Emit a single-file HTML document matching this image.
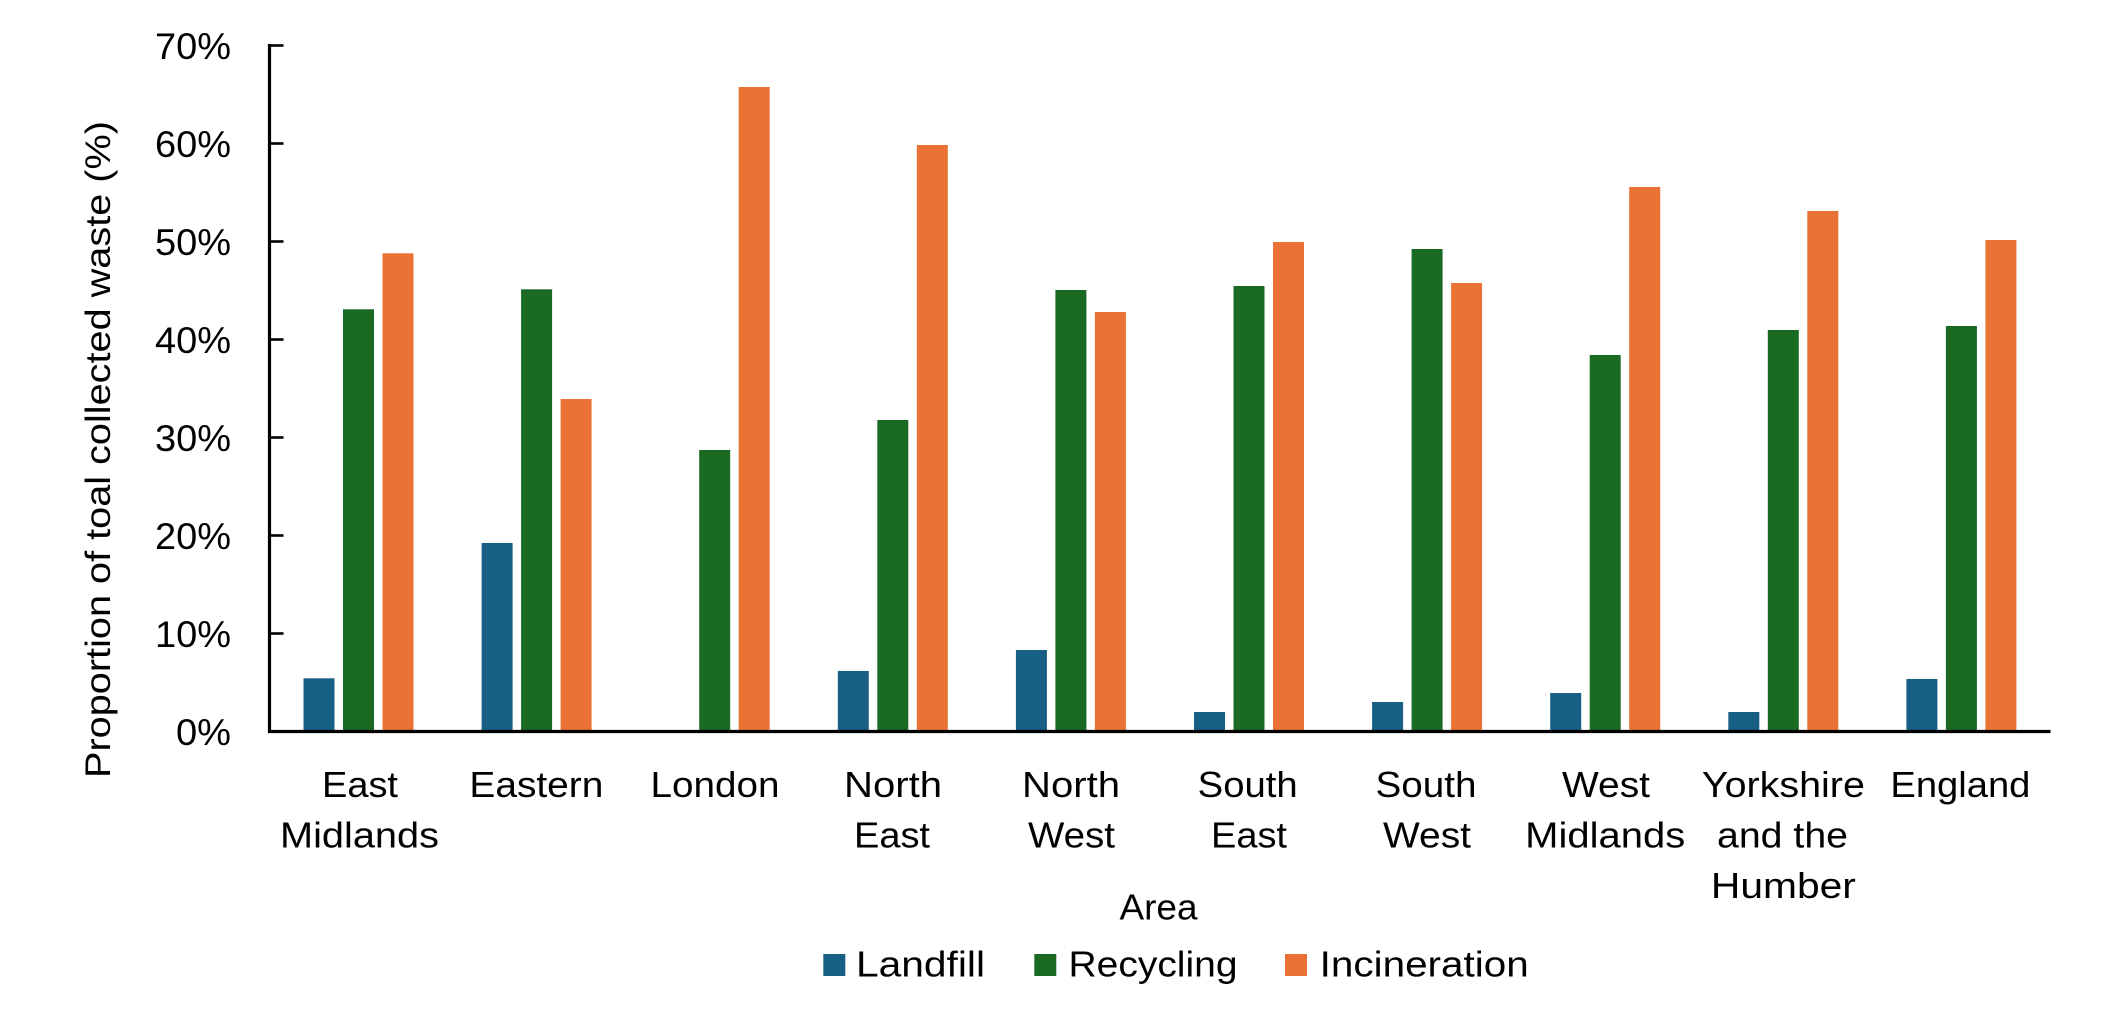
<!DOCTYPE html>
<html>
<head>
<meta charset="utf-8">
<style>
  html, body { margin: 0; padding: 0; background: #ffffff; }
  svg { display: block; }
  text { font-family: "Liberation Sans", Arial, sans-serif; fill: #000; }
</style>
</head>
<body>
<svg width="2104" height="1024" viewBox="0 0 2104 1024" xmlns="http://www.w3.org/2000/svg">
  <rect x="0" y="0" width="2104" height="1024" fill="#ffffff"/>

  <!-- Bars -->
  <g>
    <!-- East Midlands c=358.5 -->
    <rect x="303.5" y="678.3" width="31" height="53.2" fill="#185f85"/>
    <rect x="343" y="309.3" width="31" height="422.2" fill="#1a6a24"/>
    <rect x="382.5" y="253.3" width="31" height="478.2" fill="#e97234"/>
    <!-- Eastern c=536.6 -->
    <rect x="481.6" y="543" width="31" height="188.5" fill="#185f85"/>
    <rect x="521.1" y="289.3" width="31" height="442.2" fill="#1a6a24"/>
    <rect x="560.6" y="399" width="31" height="332.5" fill="#e97234"/>
    <!-- London c=714.7 -->
    <rect x="699.2" y="450" width="31" height="281.5" fill="#1a6a24"/>
    <rect x="738.7" y="87" width="31" height="644.5" fill="#e97234"/>
    <!-- North East c=892.8 -->
    <rect x="837.8" y="671" width="31" height="60.5" fill="#185f85"/>
    <rect x="877.3" y="420" width="31" height="311.5" fill="#1a6a24"/>
    <rect x="916.8" y="145" width="31" height="586.5" fill="#e97234"/>
    <!-- North West c=1070.9 -->
    <rect x="1015.9" y="650" width="31" height="81.5" fill="#185f85"/>
    <rect x="1055.4" y="290" width="31" height="441.5" fill="#1a6a24"/>
    <rect x="1094.9" y="312" width="31" height="419.5" fill="#e97234"/>
    <!-- South East c=1249 -->
    <rect x="1194" y="712" width="31" height="19.5" fill="#185f85"/>
    <rect x="1233.5" y="286" width="31" height="445.5" fill="#1a6a24"/>
    <rect x="1273" y="242" width="31" height="489.5" fill="#e97234"/>
    <!-- South West c=1427.1 -->
    <rect x="1372.1" y="702" width="31" height="29.5" fill="#185f85"/>
    <rect x="1411.6" y="249" width="31" height="482.5" fill="#1a6a24"/>
    <rect x="1451.1" y="283" width="31" height="448.5" fill="#e97234"/>
    <!-- West Midlands c=1605.2 -->
    <rect x="1550.2" y="693" width="31" height="38.5" fill="#185f85"/>
    <rect x="1589.7" y="355" width="31" height="376.5" fill="#1a6a24"/>
    <rect x="1629.2" y="187" width="31" height="544.5" fill="#e97234"/>
    <!-- Yorkshire c=1783.3 -->
    <rect x="1728.3" y="712" width="31" height="19.5" fill="#185f85"/>
    <rect x="1767.8" y="330" width="31" height="401.5" fill="#1a6a24"/>
    <rect x="1807.3" y="211" width="31" height="520.5" fill="#e97234"/>
    <!-- England c=1961.4 -->
    <rect x="1906.4" y="679" width="31" height="52.5" fill="#185f85"/>
    <rect x="1945.9" y="326" width="31" height="405.5" fill="#1a6a24"/>
    <rect x="1985.4" y="240" width="31" height="491.5" fill="#e97234"/>
  </g>

  <!-- Axes -->
  <g stroke="#000" fill="none">
    <line x1="269.5" y1="44" x2="269.5" y2="733" stroke-width="3.2"/>
    <line x1="268" y1="731.5" x2="2050.5" y2="731.5" stroke-width="3.2"/>
    <line x1="269.5" y1="45.5" x2="283.5" y2="45.5" stroke-width="2.6"/>
    <line x1="269.5" y1="143.5" x2="283.5" y2="143.5" stroke-width="2.6"/>
    <line x1="269.5" y1="241.5" x2="283.5" y2="241.5" stroke-width="2.6"/>
    <line x1="269.5" y1="339.5" x2="283.5" y2="339.5" stroke-width="2.6"/>
    <line x1="269.5" y1="437.5" x2="283.5" y2="437.5" stroke-width="2.6"/>
    <line x1="269.5" y1="535.5" x2="283.5" y2="535.5" stroke-width="2.6"/>
    <line x1="269.5" y1="633.5" x2="283.5" y2="633.5" stroke-width="2.6"/>
  </g>

  <!-- Y tick labels -->
  <g font-size="37" text-anchor="end">
    <text x="231" y="58.8" textLength="76" lengthAdjust="spacingAndGlyphs">70%</text>
    <text x="231" y="156.8" textLength="76" lengthAdjust="spacingAndGlyphs">60%</text>
    <text x="231" y="254.8" textLength="76" lengthAdjust="spacingAndGlyphs">50%</text>
    <text x="231" y="352.8" textLength="76" lengthAdjust="spacingAndGlyphs">40%</text>
    <text x="231" y="450.8" textLength="76" lengthAdjust="spacingAndGlyphs">30%</text>
    <text x="231" y="548.8" textLength="76" lengthAdjust="spacingAndGlyphs">20%</text>
    <text x="231" y="646.8" textLength="76" lengthAdjust="spacingAndGlyphs">10%</text>
    <text x="231" y="744.8" textLength="55" lengthAdjust="spacingAndGlyphs">0%</text>
  </g>

  <!-- Y axis title -->
  <text transform="translate(110,778) rotate(-90)" font-size="35" textLength="657" lengthAdjust="spacingAndGlyphs">Proportion of toal collected waste (%)</text>

  <!-- X category labels -->
  <g font-size="36" text-anchor="middle">
    <text x="360" y="797" textLength="76" lengthAdjust="spacingAndGlyphs">East</text>
    <text x="359.5" y="847.5" textLength="159" lengthAdjust="spacingAndGlyphs">Midlands</text>

    <text x="536.4" y="797" textLength="134" lengthAdjust="spacingAndGlyphs">Eastern</text>

    <text x="715" y="797" textLength="129" lengthAdjust="spacingAndGlyphs">London</text>

    <text x="893" y="797" textLength="98" lengthAdjust="spacingAndGlyphs">North</text>
    <text x="892" y="847.5" textLength="76" lengthAdjust="spacingAndGlyphs">East</text>

    <text x="1071" y="797" textLength="98" lengthAdjust="spacingAndGlyphs">North</text>
    <text x="1071.5" y="847.5" textLength="87" lengthAdjust="spacingAndGlyphs">West</text>

    <text x="1247.7" y="797" textLength="100" lengthAdjust="spacingAndGlyphs">South</text>
    <text x="1249" y="847.5" textLength="76" lengthAdjust="spacingAndGlyphs">East</text>

    <text x="1426" y="797" textLength="101" lengthAdjust="spacingAndGlyphs">South</text>
    <text x="1427" y="847.5" textLength="88" lengthAdjust="spacingAndGlyphs">West</text>

    <text x="1606" y="797" textLength="88" lengthAdjust="spacingAndGlyphs">West</text>
    <text x="1605.2" y="847.5" textLength="160" lengthAdjust="spacingAndGlyphs">Midlands</text>

    <text x="1783.4" y="797" textLength="163" lengthAdjust="spacingAndGlyphs">Yorkshire</text>
    <text x="1782.5" y="847.5" textLength="131" lengthAdjust="spacingAndGlyphs">and the</text>
    <text x="1783.4" y="898" textLength="145" lengthAdjust="spacingAndGlyphs">Humber</text>

    <text x="1960.4" y="797" textLength="140" lengthAdjust="spacingAndGlyphs">England</text>
  </g>

  <!-- X axis title -->
  <text x="1158.5" y="919.5" font-size="36" text-anchor="middle" textLength="78" lengthAdjust="spacingAndGlyphs">Area</text>

  <!-- Legend -->
  <rect x="823.3" y="954" width="22" height="22" fill="#185f85"/>
  <text x="856" y="976.5" font-size="36" textLength="129" lengthAdjust="spacingAndGlyphs">Landfill</text>
  <rect x="1034.3" y="954" width="22" height="22" fill="#1a6a24"/>
  <text x="1068.5" y="976.5" font-size="36" textLength="169" lengthAdjust="spacingAndGlyphs">Recycling</text>
  <rect x="1285" y="954" width="22" height="22" fill="#e97234"/>
  <text x="1319.7" y="976.5" font-size="36" textLength="209" lengthAdjust="spacingAndGlyphs">Incineration</text>
</svg>
</body>
</html>
